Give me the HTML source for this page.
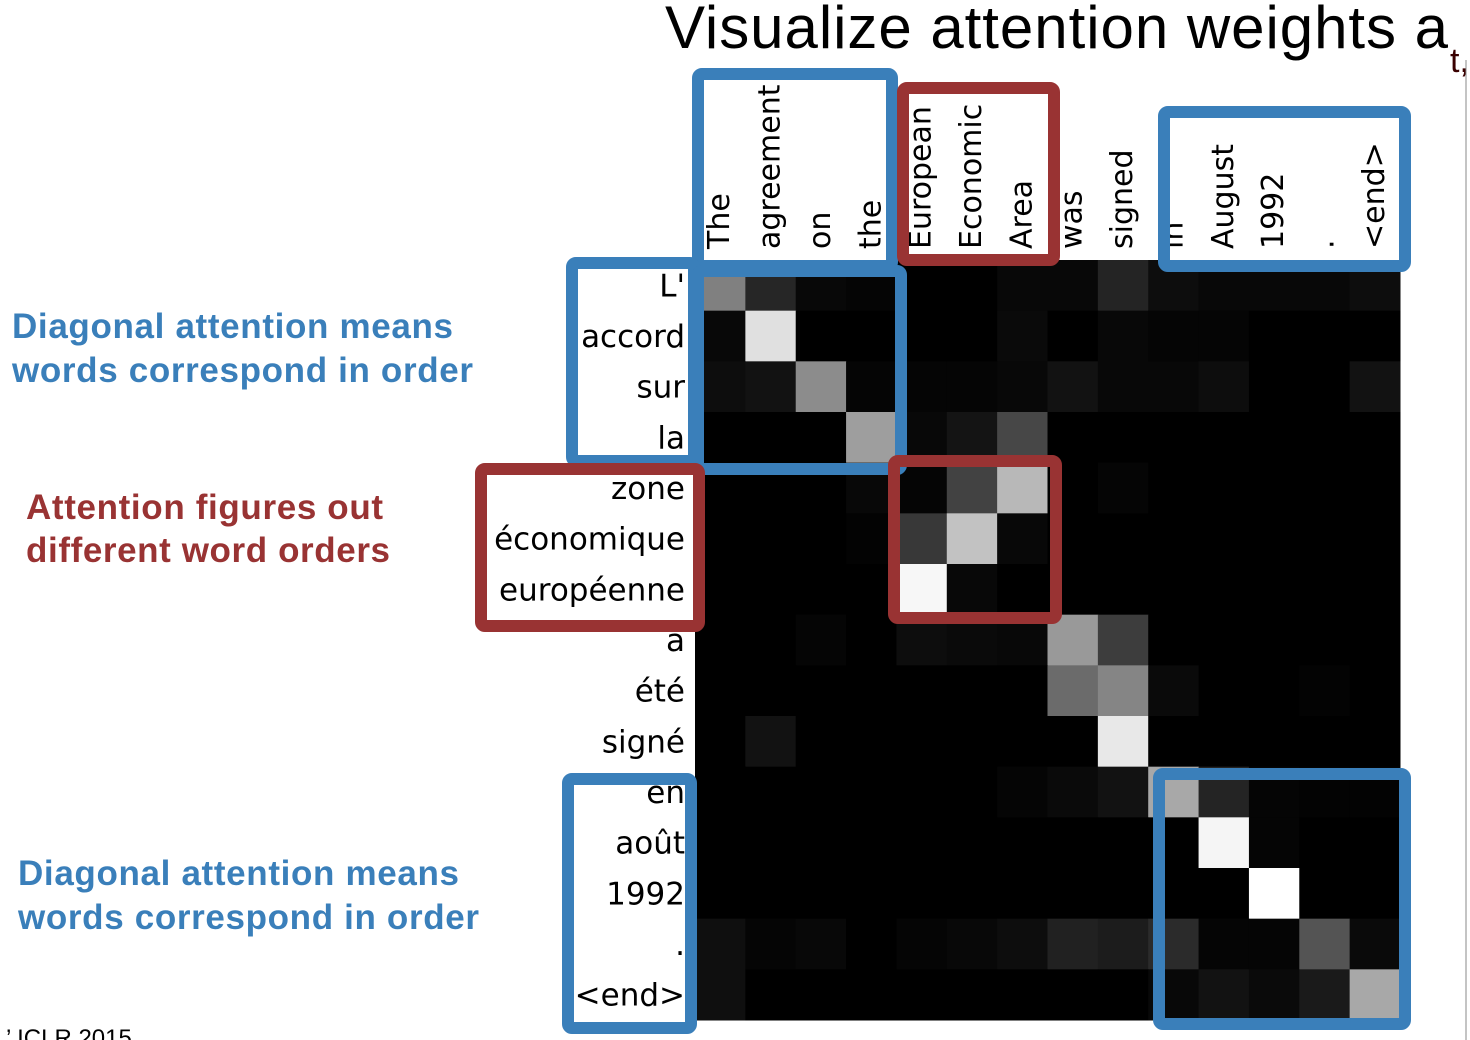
<!DOCTYPE html>
<html><head><meta charset="utf-8"><style>
html,body{margin:0;padding:0;background:#fff;}
svg{display:block;}
</style></head><body>
<svg id="chart" width="1470" height="1040" viewBox="0 0 1470 1040" xmlns="http://www.w3.org/2000/svg">
<text x="665" y="48" font-family="Liberation Sans, sans-serif" font-size="60" textLength="783" fill="#000">Visualize attention weights a</text>
<text x="1450" y="72" font-family="Liberation Sans, sans-serif" font-size="34" fill="#3a0000">t,</text>
<g id="heat"></g>
<g id="xlabels"></g>
<g id="ylabels"></g>
<g id="boxes"></g>
<g font-family="Liberation Sans, sans-serif" font-weight="bold" font-size="35">
<text x="12" y="338" fill="#3a7fba" textLength="441">Diagonal attention means</text>
<text x="12" y="382" fill="#3a7fba" textLength="461">words correspond in order</text>
<text x="26" y="519" fill="#993333" textLength="357">Attention figures out</text>
<text x="26" y="562" fill="#993333" textLength="364">different word orders</text>
<text x="18" y="885" fill="#3a7fba" textLength="441">Diagonal attention means</text>
<text x="18" y="929" fill="#3a7fba" textLength="461">words correspond in order</text>
</g>
<text x="6" y="1046" font-family="Liberation Sans, sans-serif" font-size="24" fill="#000">’ ICLR 2015</text>
<line x1="1466" y1="60" x2="1466" y2="1040" stroke="#888" stroke-width="1"/>
</svg>
<script>
const colLabels = ["The","agreement","on","the","European","Economic","Area","was","signed","in","August","1992",".","<end>"];
const rowLabels = ["L'","accord","sur","la","zone","économique","européenne","a","été","signé","en","août","1992",".","<end>"];
const row0 = [0.5,0.15,0.03,0.02,0,0,0.03,0.03,0.14,0.05,0.03,0.03,0.03,0.05];
const row1 = [0.03,0.88,0,0,0,0,0.04,0,0.03,0.02,0.02,0,0,0];
const row2 = [0.05,0.07,0.55,0.02,0.02,0.02,0.03,0.07,0.03,0.03,0.05,0,0,0.07];
const row3 = [0,0,0,0.62,0.03,0.08,0.28,0,0,0,0,0,0,0];
const row4 = [0,0,0,0.03,0.02,0.26,0.72,0,0.02,0,0,0,0,0];
const row5 = [0,0,0,0.01,0.22,0.76,0.03,0,0,0,0,0,0,0];
const row6 = [0,0,0,0,0.97,0.03,0,0,0,0,0,0,0,0];
const row7 = [0,0,0.02,0,0.05,0.04,0.03,0.6,0.24,0,0,0,0,0];
const row8 = [0,0,0,0,0,0,0,0.42,0.52,0.04,0,0,0.01,0];
const row9 = [0,0.07,0,0,0,0,0,0,0.91,0,0,0,0,0];
const row10 = [0,0,0,0,0,0,0.02,0.04,0.07,0.66,0.14,0.02,0.01,0.01];
const row11 = [0,0,0,0,0,0,0,0,0,0,0.96,0.02,0,0];
const row12 = [0,0,0,0,0,0,0,0,0,0,0,1.0,0,0];
const row13 = [0.06,0.02,0.03,0,0.02,0.03,0.05,0.13,0.11,0.17,0.02,0.02,0.33,0.04];
const row14 = [0.06,0,0,0,0,0,0,0,0,0.03,0.07,0.04,0.1,0.66];
const weights = [row0,row1,row2,row3,row4,row5,row6,row7,row8,row9,row10,row11,row12,row13,row14];

const NS = "http://www.w3.org/2000/svg";
const X0 = 695, X1 = 1400, Y0 = 260, Y1 = 1020;
const cw = (X1 - X0) / colLabels.length, ch = (Y1 - Y0) / rowLabels.length;
function xScale(i){ return X0 + i * cw; }
function yScale(j){ return Y0 + j * ch; }
function gray(v){ const g = Math.round(Math.max(0,Math.min(1,v))*255); return `rgb(${g},${g},${g})`; }

const heat = document.getElementById('heat');
weights.forEach((row, j) => {
  row.forEach((v, i) => {
    const r = document.createElementNS(NS,'rect');
    
    
    r.setAttribute('x', xScale(i)); r.setAttribute('y', yScale(j));
    r.setAttribute('width', cw + 0.5); r.setAttribute('height', ch + 0.5);
    r.setAttribute('fill', gray(v));
    heat.appendChild(r);
  });
});

const xl = document.getElementById('xlabels');
colLabels.forEach((lab, i) => {
  const t = document.createElementNS(NS,'text');
  
  
  const cx = xScale(i) + cw/2 + 9;
  t.setAttribute('transform', `translate(${cx},249) rotate(-90)`);
  t.setAttribute('font-family', 'DejaVu Sans, sans-serif');
  t.setAttribute('font-size', '30');
  t.textContent = lab;
  xl.appendChild(t);
});

const yl = document.getElementById('ylabels');
rowLabels.forEach((lab, j) => {
  const t = document.createElementNS(NS,'text');
  
  
  t.setAttribute('x', 685);
  t.setAttribute('y', yScale(j) + ch/2 + 11);
  t.setAttribute('text-anchor', 'end');
  t.setAttribute('font-family', 'DejaVu Sans, sans-serif');
  t.setAttribute('font-size', '31');
  t.textContent = lab;
  yl.appendChild(t);
});

const BLUE = "#3a7fba", RED = "#993333";
const boxSpecs = [
  ["box-source-the-agreement", 692, 68, 898, 272, BLUE],
  ["box-source-european-economic-area", 897, 82, 1060, 266, RED],
  ["box-source-august-1992", 1158, 106, 1411, 272, BLUE],
  ["box-target-l-accord-sur-la", 566, 257, 700, 467, BLUE],
  ["box-attention-diagonal-top", 692, 265, 907, 475, BLUE],
  ["box-target-zone-economique", 475, 463, 705, 632, RED],
  ["box-attention-reordering", 888, 455, 1062, 624, RED],
  ["box-target-en-aout-1992", 562, 773, 697, 1034, BLUE],
  ["box-attention-diagonal-bottom", 1153, 768, 1411, 1030, BLUE]
];
const bx = document.getElementById('boxes');
boxSpecs.forEach(b => {
  const r = document.createElementNS(NS,'rect');
  
  
  r.setAttribute('x', b[1] + 6); r.setAttribute('y', b[2] + 6);
  r.setAttribute('width', b[3] - b[1] - 12); r.setAttribute('height', b[4] - b[2] - 12);
  r.setAttribute('rx', 4);
  r.setAttribute('fill', 'none');
  r.setAttribute('stroke', b[5]);
  r.setAttribute('stroke-width', 12);
  bx.appendChild(r);
});
</script>
</body></html>
